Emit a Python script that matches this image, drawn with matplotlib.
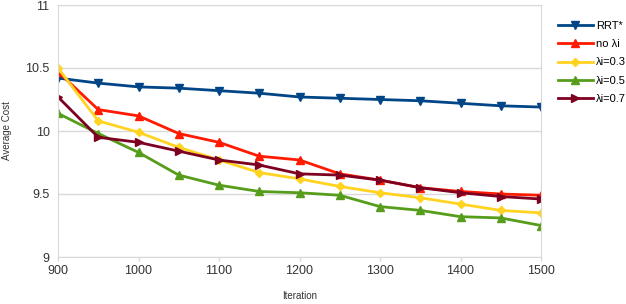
import matplotlib
matplotlib.use("Agg")
import matplotlib.pyplot as plt

# Dados
ITERACOES = [900, 950, 1000, 1050, 1100, 1150, 1200, 1250, 1300, 1350, 1400, 1450, 1500]
RRT_STAR = [10.42, 10.38, 10.35, 10.34, 10.32, 10.30, 10.27, 10.26, 10.25, 10.24, 10.22, 10.20, 10.19]
NO_LAMBDA = [10.47, 10.17, 10.12, 9.98, 9.91, 9.80, 9.77, 9.66, 9.61, 9.55, 9.52, 9.50, 9.49]
LAMBDA_03 = [10.50, 10.08, 9.99, 9.87, 9.77, 9.67, 9.62, 9.56, 9.51, 9.47, 9.42, 9.37, 9.35]
LAMBDA_05 = [10.14, 9.98, 9.83, 9.65, 9.57, 9.52, 9.51, 9.49, 9.40, 9.37, 9.32, 9.31, 9.25]
LAMBDA_07 = [10.27, 9.95, 9.91, 9.84, 9.77, 9.73, 9.66, 9.65, 9.61, 9.55, 9.51, 9.48, 9.46]

SERIES = [
    ("RRT*", RRT_STAR, "#004586", "v"),
    ("no \u03bbi", NO_LAMBDA, "#ff1a00", "^"),
    ("\u03bbi=0.3", LAMBDA_03, "#ffd320", "D"),
    ("\u03bbi=0.5", LAMBDA_05, "#579d1c", "^"),
    ("\u03bbi=0.7", LAMBDA_07, "#7e0021", ">"),
]

plt.rcParams["font.family"] = ["Liberation Sans", "DejaVu Sans"]

fig = plt.figure(figsize=(6.26, 3.04), dpi=100)
ax = fig.add_axes([58 / 626, 47 / 304, 483 / 626, 252 / 304])

for nome, valores, cor, marcador in SERIES:
    ms = 4 if marcador == "D" else 6
    ax.plot(ITERACOES, valores, color=cor, marker=marcador, markersize=ms,
            linewidth=2, label=nome)

ax.set_xlim(900, 1500)
ax.set_ylim(9, 11)
ax.set_xticks(range(900, 1501, 100))
ax.set_yticks([9, 9.5, 10, 10.5, 11])
ax.set_yticklabels(["9", "9.5", "10", "10.5", "11"])
ax.tick_params(axis="y", length=0, labelsize=9, colors="#333333", pad=6)
ax.tick_params(axis="x", length=3, width=1, color="#d9d9d9", labelsize=9,
               labelcolor="#333333", pad=3)
ax.grid(True, axis="y", color="#d9d9d9", linewidth=1)
ax.set_axisbelow(True)
for s in ax.spines.values():
    s.set_color("#d9d9d9")

ax.set_xlabel("Iteration", fontsize=7, color="#333333", labelpad=10)
ax.set_ylabel("Average Cost", fontsize=7, color="#333333", labelpad=10)

ax.legend(loc="upper left", bbox_to_anchor=(1.025, 0.955), frameon=False,
          fontsize=8, handlelength=3.2, labelspacing=0.75, borderaxespad=0,
          handletextpad=0.3)

plt.savefig("out.png", dpi=100)
